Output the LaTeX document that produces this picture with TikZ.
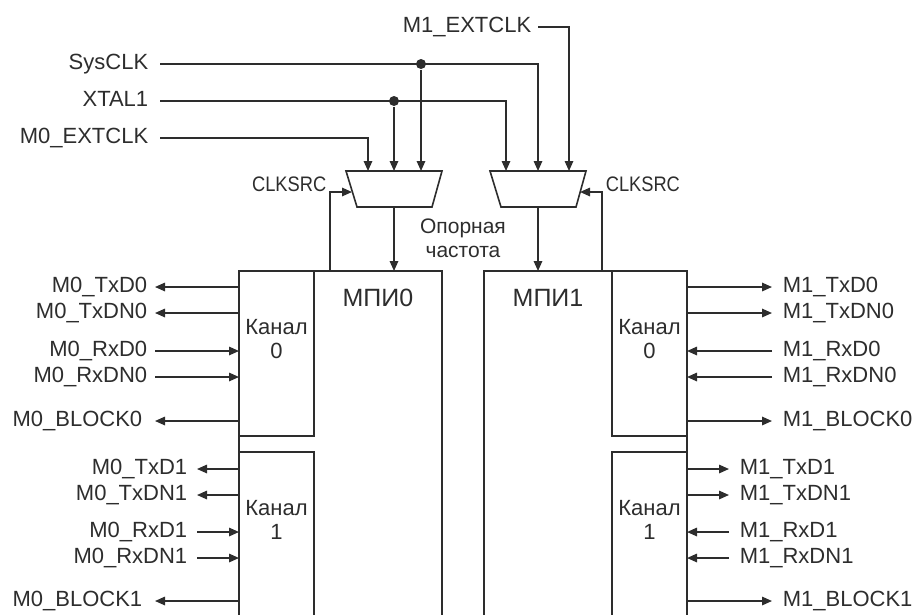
\documentclass[tikz,border=0pt]{standalone}
\usepackage{fontspec}
\setmainfont{Liberation Sans}
\newfontfamily\narrowfont[FakeStretch=0.87]{Liberation Sans}
\usepackage{xcolor}
\usepackage{tikz}
\usetikzlibrary{arrows.meta}
\definecolor{ink}{RGB}{45,45,45}

\begin{document}
\begin{tikzpicture}[x=1pt, y=-1pt, line width=1.6pt, color=ink,
    every node/.style={font=\fontsize{22}{24}\selectfont},
    arr/.style={-{Triangle[length=10pt, width=8.5pt]}},
    sig/.style={text height=16pt, text depth=5pt, inner ysep=0pt},
    sigl/.style={sig, anchor=east, inner xsep=7pt},
    sigr/.style={sig, anchor=west, inner xsep=10pt},
    blk/.style={draw, rectangle, anchor=north west, inner sep=0pt, outer sep=0pt},
    dot/.style={circle, fill, inner sep=0pt, minimum size=10pt},
    chtext/.style={anchor=north, align=center, inner sep=0pt}]
  \useasboundingbox (0,0) rectangle (917,614);
  \clip (0,0) rectangle (917,614);

  % clock sources
  \node[sig, anchor=east, inner xsep=11pt] (sysclk) at (160,64) {SysCLK};
  \node[sig, anchor=east, inner xsep=11pt] (xtal) at (160,101) {XTAL1};
  \node[sig, anchor=east, inner xsep=11pt] (extclk0) at (160,138) {M0\_EXTCLK};
  \node[sig, anchor=east, inner xsep=6pt] (extclk1) at (538,27) {M1\_EXTCLK};
  \node[dot] (dsys) at (421,64) {};
  \node[dot] (dxt) at (394,101) {};

  % multiplexers
  \draw (346,171) -- (442,171) -- (432,207) -- (357,207) -- cycle;
  \draw (490,171) -- (586,171) -- (576,207) -- (501,207) -- cycle;
  \coordinate (m0a) at (368,171);
  \coordinate (m0b) at (394,171);
  \coordinate (m0c) at (421,171);
  \coordinate (m0out) at (394,207);
  \coordinate (m0sel) at (352,192);
  \coordinate (m1a) at (506,171);
  \coordinate (m1b) at (538,171);
  \coordinate (m1c) at (569,171);
  \coordinate (m1out) at (538,207);
  \coordinate (m1sel) at (580,192);
  \node[anchor=base east, inner sep=0pt, font=\narrowfont\fontsize{21}{24}\selectfont] (src0) at (327,191) {CLKSRC};
  \node[anchor=base west, inner sep=0pt, font=\narrowfont\fontsize{21}{24}\selectfont] (src1) at (605,191) {CLKSRC};
  \node[chtext, font=\fontsize{21}{24}\selectfont] (fref) at (463,218) {Опорная\\частота};

  % blocks
  \node[blk, minimum width=203pt, minimum height=380pt] (mpi0) at (239,271) {};
  \node[blk, minimum width=75pt, minimum height=165pt] (ch0a) at (239,271) {};
  \node[blk, minimum width=75pt, minimum height=200pt] (ch0b) at (239,452) {};
  \node[blk, minimum width=203pt, minimum height=380pt] (mpi1) at (484,271) {};
  \node[blk, minimum width=75pt, minimum height=165pt] (ch1a) at (612,271) {};
  \node[blk, minimum width=75pt, minimum height=200pt] (ch1b) at (612,452) {};
  \node[anchor=base, font=\fontsize{25}{28}\selectfont] (t0) at (378,306) {МПИ0};
  \node[anchor=base, font=\fontsize{25}{28}\selectfont] (t1) at (548,306) {МПИ1};
  \node[chtext] (c0a) at (276.5,319) {Канал\\0};
  \node[chtext] (c0b) at (276.5,500) {Канал\\1};
  \node[chtext] (c1a) at (649.5,319) {Канал\\0};
  \node[chtext] (c1b) at (649.5,500) {Канал\\1};

  % signals of MPI0
  \node[sigl] (m0txd0) at (155,287) {M0\_TxD0};
  \node[sigl] (m0txdn0) at (155,313) {M0\_TxDN0};
  \node[sigl] (m0rxd0) at (155,351) {M0\_RxD0};
  \node[sigl] (m0rxdn0) at (155,377) {M0\_RxDN0};
  \node[sigl, inner xsep=12pt] (m0blk0) at (155,421) {M0\_BLOCK0};
  \node[sigl, inner xsep=9pt] (m0txd1) at (197,469) {M0\_TxD1};
  \node[sigl, inner xsep=9pt] (m0txdn1) at (197,495) {M0\_TxDN1};
  \node[sigl, inner xsep=9pt] (m0rxd1) at (197,532) {M0\_RxD1};
  \node[sigl, inner xsep=9pt] (m0rxdn1) at (197,558) {M0\_RxDN1};
  \node[sigl, inner xsep=12pt] (m0blk1) at (155,601) {M0\_BLOCK1};

  % signals of MPI1
  \node[sigr] (m1txd0) at (772,287) {M1\_TxD0};
  \node[sigr] (m1txdn0) at (772,313) {M1\_TxDN0};
  \node[sigr] (m1rxd0) at (772,351) {M1\_RxD0};
  \node[sigr] (m1rxdn0) at (772,377) {M1\_RxDN0};
  \node[sigr] (m1blk0) at (772,421) {M1\_BLOCK0};
  \node[sigr] (m1txd1) at (729,469) {M1\_TxD1};
  \node[sigr] (m1txdn1) at (729,495) {M1\_TxDN1};
  \node[sigr] (m1rxd1) at (729,532) {M1\_RxD1};
  \node[sigr] (m1rxdn1) at (729,558) {M1\_RxDN1};
  \node[sigr] (m1blk1) at (772,601) {M1\_BLOCK1};

  % clock wiring
  \draw[arr] (sysclk) -| (m1b);
  \draw[arr] (xtal) -| (m1a);
  \draw[arr] (extclk0) -| (m0a);
  \draw[arr] (extclk1) -| (m1c);
  \draw[arr] (dsys) -- (m0c);
  \draw[arr] (dxt) -- (m0b);
  \draw[arr] (m0out) -- (m0out |- mpi0.north);
  \draw[arr] (m1out) -- (m1out |- mpi1.north);
  \draw[arr] ([xshift=91pt]mpi0.north west) |- (m0sel);
  \draw[arr] ([xshift=-85pt]mpi1.north east) |- (m1sel);

  % channel wiring, MPI0
  \draw[arr] (m0txd0 -| ch0a.west) -- (m0txd0);
  \draw[arr] (m0txdn0 -| ch0a.west) -- (m0txdn0);
  \draw[arr] (m0rxd0) -- (m0rxd0 -| ch0a.west);
  \draw[arr] (m0rxdn0) -- (m0rxdn0 -| ch0a.west);
  \draw[arr] (m0blk0 -| ch0a.west) -- (m0blk0);
  \draw[arr] (m0txd1 -| ch0b.west) -- (m0txd1);
  \draw[arr] (m0txdn1 -| ch0b.west) -- (m0txdn1);
  \draw[arr] (m0rxd1) -- (m0rxd1 -| ch0b.west);
  \draw[arr] (m0rxdn1) -- (m0rxdn1 -| ch0b.west);
  \draw[arr] (m0blk1 -| ch0b.west) -- (m0blk1);

  % channel wiring, MPI1
  \draw[arr] (m1txd0 -| ch1a.east) -- (m1txd0);
  \draw[arr] (m1txdn0 -| ch1a.east) -- (m1txdn0);
  \draw[arr] (m1rxd0) -- (m1rxd0 -| ch1a.east);
  \draw[arr] (m1rxdn0) -- (m1rxdn0 -| ch1a.east);
  \draw[arr] (m1blk0 -| ch1a.east) -- (m1blk0);
  \draw[arr] (m1txd1 -| ch1b.east) -- (m1txd1);
  \draw[arr] (m1txdn1 -| ch1b.east) -- (m1txdn1);
  \draw[arr] (m1rxd1) -- (m1rxd1 -| ch1b.east);
  \draw[arr] (m1rxdn1) -- (m1rxdn1 -| ch1b.east);
  \draw[arr] (m1blk1 -| ch1b.east) -- (m1blk1);
\end{tikzpicture}
\end{document}
